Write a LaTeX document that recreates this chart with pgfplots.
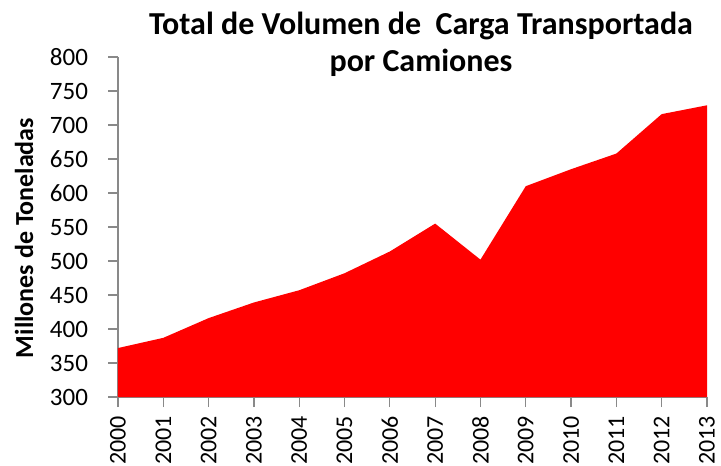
\documentclass[border=0pt]{standalone}
\usepackage{fontspec}
\setmainfont{Carlito}
\usepackage{pgfplots}
\pgfplotsset{compat=1.18}
\definecolor{axgray}{HTML}{898989}
\begin{document}
\begin{tikzpicture}
\useasboundingbox (-118pt,-69pt) rectangle (603pt,397pt);
\begin{axis}[
  at={(0,0)}, anchor=south west,
  scale only axis, width=589pt, height=340pt,
  xmin=2000, xmax=2013, ymin=300, ymax=800,
  xtick={2000,2001,...,2013}, ytick={300,350,...,800},
  axis x line*=bottom, axis y line*=left,
  axis line style={draw=axgray, line width=1.3pt},
  tick style={draw=axgray, line width=1.3pt},
  tick align=outside, major tick length=10pt,
  /pgf/number format/assume math mode=true,
  /pgf/number format/1000 sep={},
  yticklabel style={font=\fontsize{25}{30}\selectfont, xshift=-16.5pt},
  xticklabel style={font=\fontsize{24}{28}\selectfont, rotate=90, anchor=east, xshift=-5.5pt},
]
\addplot[fill=red, draw=none] coordinates {
(2000,372) (2001,387) (2002,416) (2003,439) (2004,457) (2005,482) (2006,514)
(2007,555) (2008,502) (2009,610) (2010,635) (2011,658) (2012,716) (2013,729)
} \closedcycle;
\end{axis}
\node[font=\bfseries\fontsize{32}{37}\selectfont, align=center, anchor=north] at (303pt,388pt)
  {Total de Volumen de\ \ Carga Transportada\\por Camiones};
\node[font=\bfseries\fontsize{26}{30}\selectfont, rotate=90, anchor=center] at (-94pt,159pt)
  {Millones de Toneladas};
\end{tikzpicture}
\end{document}
